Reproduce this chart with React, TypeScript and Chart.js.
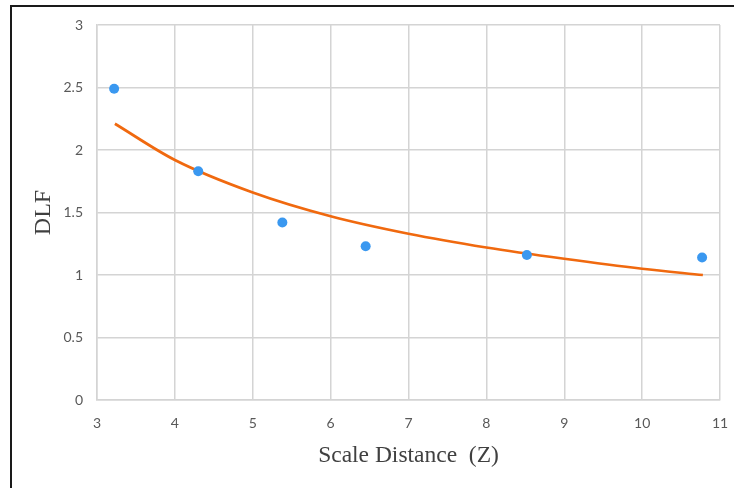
import React, { useEffect, useRef } from "react";
import { Chart, registerables } from "chart.js";

Chart.register(...registerables);

const measuredX = [3.22, 4.3, 5.38, 6.45, 8.52, 10.77];
const measuredDLF = [2.49, 1.83, 1.42, 1.23, 1.16, 1.14];

const trendX = [3.23, 4, 5, 6, 7, 8, 9, 10, 10.78];
const trendDLF = [2.21, 1.92, 1.66, 1.47, 1.33, 1.22, 1.13, 1.05, 1.0];

const xTitle = "Scale Distance  (Z)";
const yTitle = "DLF";

const framePlugin = {
  id: "frame",
  afterDraw(chart: any) {
    const ctx = chart.ctx;
    ctx.save();
    ctx.fillStyle = "#1a1a1a";
    ctx.fillRect(10, 5, chart.width - 10, 2);
    ctx.fillRect(10, 5, 2, chart.height - 5);
    ctx.restore();
  },
};

export default function App() {
  const ref = useRef<HTMLCanvasElement>(null);
  useEffect(() => {
    document.body.style.margin = "0";
    const chart = new Chart(ref.current!, {
      type: "scatter",
      data: {
        datasets: [
          {
            label: "Trend",
            data: trendX.map((x, i) => ({ x, y: trendDLF[i] })),
            showLine: true,
            borderColor: "#f0690f",
            borderWidth: 2.7,
            pointRadius: 0,
            cubicInterpolationMode: "monotone",
            order: 2,
          },
          {
            label: "DLF",
            data: measuredX.map((x, i) => ({ x, y: measuredDLF[i] })),
            showLine: false,
            backgroundColor: "#3a98f0",
            borderColor: "#3a98f0",
            pointRadius: 5,
            pointBorderWidth: 0,
            order: 1,
          },
        ],
      },
      options: {
        animation: false,
        responsive: false,
        layout: { padding: { left: 0, top: 25, right: 14, bottom: 0 } },
        plugins: { legend: { display: false }, tooltip: { enabled: false } },
        scales: {
          x: {
            type: "linear",
            min: 3,
            max: 11,
            ticks: {
              stepSize: 1,
              color: "#595959",
              font: { family: "Lato", size: 14 },
              padding: 15,
            },
            grid: { color: "#d4d4d4", lineWidth: 1.5, drawTicks: false },
            border: { color: "#d4d4d4", width: 1.5 },
            title: {
              display: true,
              text: xTitle,
              color: "#404040",
              font: { family: "Liberation Serif", size: 23.5 },
              padding: { top: 0, bottom: 18.5 },
            },
            afterFit(scale: any) {
              scale.height = 88;
              scale.paddingLeft = 0;
              scale.paddingRight = 0;
            },
          },
          y: {
            min: 0,
            max: 3,
            ticks: {
              stepSize: 0.5,
              color: "#595959",
              font: { family: "Lato", size: 14 },
              padding: 14,
              callback: (v: any) => String(Number(v)),
            },
            grid: { color: "#d4d4d4", lineWidth: 1.5, drawTicks: false },
            border: { color: "#d4d4d4", width: 1.5 },
            title: {
              display: true,
              text: yTitle,
              color: "#404040",
              font: { family: "Liberation Serif", size: 24 },
              padding: { top: 29.5, bottom: 0 },
            },
            afterFit(scale: any) {
              scale.width = 97;
              scale.paddingTop = 0;
              scale.paddingBottom = 0;
            },
          },
        },
      },
      plugins: [framePlugin],
    } as any);
    return () => chart.destroy();
  }, []);
  return (
    <div style={{ width: 734, height: 488, background: "#fff" }}>
      <canvas ref={ref} width={734} height={488} />
    </div>
  );
}
